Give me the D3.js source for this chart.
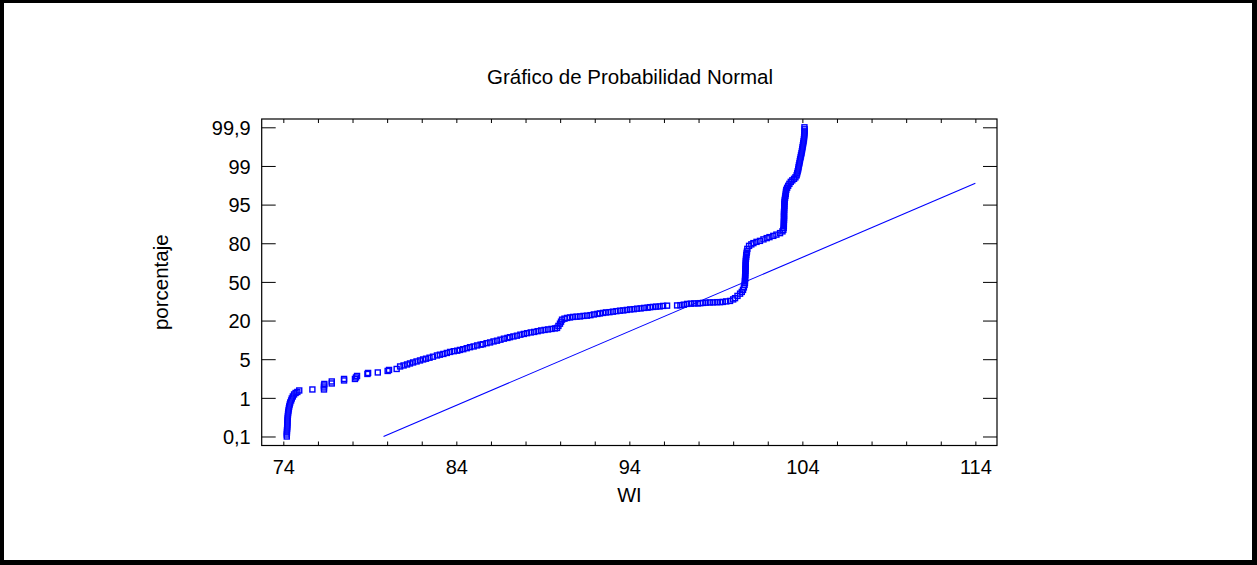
<!DOCTYPE html>
<html>
<head>
<meta charset="utf-8">
<script src="https://cdn.jsdelivr.net/npm/d3@7"></script>
<style>
  html, body { margin: 0; padding: 0; background: #000; }
  svg { display: block; }
  text { font-family: Arial, "Liberation Sans", sans-serif; fill: #000; }
</style>
</head>
<body>
<svg id="chart" width="1257" height="565"></svg>
<script>
// WI observations paired with their normal scores (z), grouped by stretch of the curve
const lowerTail = [
  [74.20,-3.09],[74.20,-3.05],[74.21,-3.01],[74.21,-2.97],[74.22,-2.93],[74.23,-2.89],
  [74.23,-2.85],[74.24,-2.81],[74.24,-2.77],[74.25,-2.73],[74.26,-2.69],[74.27,-2.65],
  [74.28,-2.61],[74.30,-2.57],[74.32,-2.53],[74.34,-2.49],[74.37,-2.45],[74.40,-2.41],
  [74.45,-2.37],[74.49,-2.33],[74.55,-2.29],[74.62,-2.25],[74.71,-2.22],[74.81,-2.20],
  [74.92,-2.17]
];
const sparseLow = [
  [75.68,-2.15],[76.35,-2.15],[76.35,-2.11],[76.35,-2.07],[76.37,-2.04],[76.80,-2.03],
  [76.80,-1.99],[77.51,-1.97],[77.51,-1.94],[78.14,-1.94],[78.20,-1.91],[78.26,-1.88],
  [78.86,-1.84],[78.90,-1.82],[79.46,-1.81],[80.03,-1.78],[80.11,-1.76],[80.55,-1.74]
];
const lowerBand = [
  [80.75,-1.69],[80.95,-1.67],[81.15,-1.65],[81.32,-1.63],[81.50,-1.61],[81.70,-1.59],
  [81.90,-1.57],[82.08,-1.55],[82.25,-1.535],[82.45,-1.515],[82.65,-1.495],[82.88,-1.47],
  [83.05,-1.455],[83.25,-1.44],[83.45,-1.42],[83.64,-1.40],[83.85,-1.385],[84.05,-1.375],
  [84.21,-1.36],[84.40,-1.345],[84.60,-1.325],[84.79,-1.305],[85.00,-1.29],[85.20,-1.27],
  [85.40,-1.255],[85.54,-1.245],[85.75,-1.225],[85.95,-1.21],[86.15,-1.19],[86.35,-1.175],
  [86.55,-1.155],[86.75,-1.135],[86.95,-1.12],[87.10,-1.105],[87.30,-1.09],[87.50,-1.075],
  [87.70,-1.055],[87.90,-1.04],[88.09,-1.025],[88.30,-1.01],[88.50,-1.00],[88.70,-0.985],
  [88.90,-0.97],[89.10,-0.96],[89.30,-0.95],[89.50,-0.94],[89.70,-0.93],[89.82,-0.92],
  [89.90,-0.88],[89.99,-0.835],[90.05,-0.795],[90.11,-0.755],[90.25,-0.735],[90.40,-0.72],
  [90.57,-0.71]
];
const centralBand = [
  [90.75,-0.70],[90.95,-0.695],[91.15,-0.69],[91.35,-0.68],[91.55,-0.675],[91.75,-0.665],
  [91.95,-0.65],[92.15,-0.64],[92.30,-0.63],[92.48,-0.62],[92.65,-0.61],[92.85,-0.605],
  [93.05,-0.595],[93.25,-0.585],[93.46,-0.575],[93.65,-0.57],[93.85,-0.56],[94.05,-0.55],
  [94.25,-0.545],[94.45,-0.535],[94.65,-0.53],[94.85,-0.52],[95.05,-0.515],[95.20,-0.505],
  [95.37,-0.50],[95.55,-0.495],[95.75,-0.49],[95.95,-0.48],[96.18,-0.475],
  [96.76,-0.47],[96.95,-0.465],[97.15,-0.455],[97.34,-0.44],[97.55,-0.435],[97.75,-0.43],
  [97.95,-0.43],[98.10,-0.425],[98.26,-0.42],[98.45,-0.415],[98.65,-0.41],[98.85,-0.41],
  [99.05,-0.405],[99.24,-0.405],[99.40,-0.40],[99.60,-0.39],[99.82,-0.38],[100.00,-0.35],
  [100.11,-0.325],[100.25,-0.28],[100.40,-0.235],[100.50,-0.20],[100.57,-0.16],[100.62,-0.11],
  [100.66,-0.06]
];
const upperStep = [
  [100.68,-0.02],[100.68,0.02],[100.69,0.06],[100.69,0.10],[100.70,0.14],[100.70,0.18],
  [100.71,0.22],[100.71,0.26],[100.72,0.30],[100.72,0.34],[100.73,0.38],[100.73,0.42],
  [100.74,0.46],[100.75,0.50],[100.76,0.54],[100.78,0.58],[100.80,0.61],
  [100.82,0.66],[100.92,0.72],[101.05,0.75],[101.17,0.775],[101.35,0.80],[101.55,0.82],
  [101.75,0.85],[101.94,0.875],[102.10,0.895],[102.32,0.92],[102.50,0.945],[102.71,0.975],
  [102.85,1.01],[102.90,1.04],
  [102.92,1.08],[102.93,1.12],[102.93,1.16],[102.93,1.20],[102.94,1.24],[102.94,1.28],
  [102.94,1.32],[102.94,1.36],[102.94,1.40],[102.95,1.44],[102.95,1.48],[102.96,1.52],
  [102.96,1.56],[102.97,1.60],[102.98,1.64],[103.00,1.68]
];
const upperTail = [
  [103.02,1.72],[103.04,1.76],[103.05,1.80],[103.07,1.84],[103.12,1.88],[103.18,1.92],
  [103.25,1.96],[103.33,2.00],[103.42,2.03],[103.52,2.06],[103.60,2.09],[103.67,2.13],
  [103.70,2.17],[103.73,2.21],[103.76,2.25],[103.78,2.29],[103.80,2.33],[103.83,2.37],
  [103.85,2.41],[103.87,2.45],[103.90,2.49],[103.92,2.53],[103.95,2.57],[103.97,2.61],
  [103.99,2.65],[104.01,2.69],[104.03,2.73],[104.05,2.77],[104.07,2.81],[104.09,2.85],
  [104.10,2.89],[104.11,2.93],[104.12,2.97],[104.13,3.01],[104.13,3.05],[104.12,3.09]
];

// Reference normal line (location and scale of the fitted distribution)
const fitMean = 100.68;
const fitSd = 6.76;
const lineScoreMin = -3.09;
const lineWiMax = 114;

// Axes
const xTicks = [74,76,78,80,82,84,86,88,90,92,94,96,98,100,102,104,106,108,110,112,114];
const xLabels = [74,84,94,104,114];
const yTickScores = [-3.09,-2.3175,-1.545,-0.7725,0,0.7725,1.545,2.3175,3.09];
const yTickLabels = ["0,1","1","5","20","50","80","95","99","99,9"];

const titleText = "Gráfico de Probabilidad Normal";
const xTitle = "WI";
const yTitle = "porcentaje";

const W = 1257, H = 565;
const plot = { left: 261.7, right: 997, top: 119, bottom: 445.5 };
const blue = "#0000ff";

const svg = d3.select("#chart");

// white page inside the black border
svg.append("rect")
  .attr("x", 4).attr("y", 3)
  .attr("width", W - 4 - 5).attr("height", H - 3 - 5)
  .attr("fill", "#fff");

const x = d3.scaleLinear().domain([72.75, 115.25]).range([plot.left, plot.right]);
const y = d3.scaleLinear().domain([-3.27, 3.256]).range([plot.bottom, plot.top]);

const fontSize = 20;

function styleAxis(g) {
  g.select(".domain").remove();
  g.selectAll(".tick line").attr("stroke", "#000").attr("stroke-width", 1);
  g.selectAll(".tick text")
    .attr("font-size", fontSize)
    .attr("font-family", "Arial, 'Liberation Sans', sans-serif")
    .attr("fill", "#000");
}

// bottom axis with labels
svg.append("g")
  .attr("transform", `translate(0,${plot.bottom})`)
  .call(d3.axisBottom(x).tickValues(xTicks).tickSize(-4).tickPadding(14)
    .tickFormat(d => xLabels.includes(d) ? String(d) : ""))
  .call(styleAxis);

// top axis, ticks only
svg.append("g")
  .attr("transform", `translate(0,${plot.top})`)
  .call(d3.axisTop(x).tickValues(xTicks).tickSize(-4).tickFormat(""))
  .call(styleAxis);

// left axis with percentage labels
svg.append("g")
  .attr("transform", `translate(${plot.left},0)`)
  .call(d3.axisLeft(y).tickValues(yTickScores).tickSize(-14).tickPadding(11)
    .tickFormat((d, i) => yTickLabels[i]))
  .call(styleAxis)
  .call(g => g.selectAll(".tick text").attr("dy", "0.36em"));

// right axis, ticks only
svg.append("g")
  .attr("transform", `translate(${plot.right},0)`)
  .call(d3.axisRight(y).tickValues(yTickScores).tickSize(-14).tickFormat(""))
  .call(styleAxis);

// plot frame
svg.append("rect")
  .attr("x", plot.left).attr("y", plot.top)
  .attr("width", plot.right - plot.left).attr("height", plot.bottom - plot.top)
  .attr("fill", "none").attr("stroke", "#000").attr("stroke-width", 1.2);

// fitted normal line
const lineStart = [fitMean + fitSd * lineScoreMin, lineScoreMin];
const lineEnd = [lineWiMax, (lineWiMax - fitMean) / fitSd];
svg.append("path")
  .attr("d", d3.line().x(d => x(d[0])).y(d => y(d[1]))([lineStart, lineEnd]))
  .attr("fill", "none").attr("stroke", blue).attr("stroke-width", 1.1);

// observations as hollow squares
const points = [].concat(lowerTail, sparseLow, lowerBand, centralBand, upperStep, upperTail);
const m = 5;
svg.append("g")
  .selectAll("rect")
  .data(points)
  .join("rect")
  .attr("x", d => x(d[0]) - m / 2)
  .attr("y", d => y(d[1]) - m / 2)
  .attr("width", m).attr("height", m)
  .attr("fill", "none").attr("stroke", blue).attr("stroke-width", 1.4);

// titles
svg.append("text")
  .attr("x", 630).attr("y", 84)
  .attr("text-anchor", "middle").attr("font-size", 20.5)
  .text(titleText);

svg.append("text")
  .attr("x", (plot.left + plot.right) / 2).attr("y", 502)
  .attr("text-anchor", "middle").attr("font-size", fontSize)
  .text(xTitle);

svg.append("text")
  .attr("transform", `translate(167.5,${(plot.top + plot.bottom) / 2}) rotate(-90)`)
  .attr("text-anchor", "middle").attr("font-size", 20.5)
  .text(yTitle);
</script>
</body>
</html>
